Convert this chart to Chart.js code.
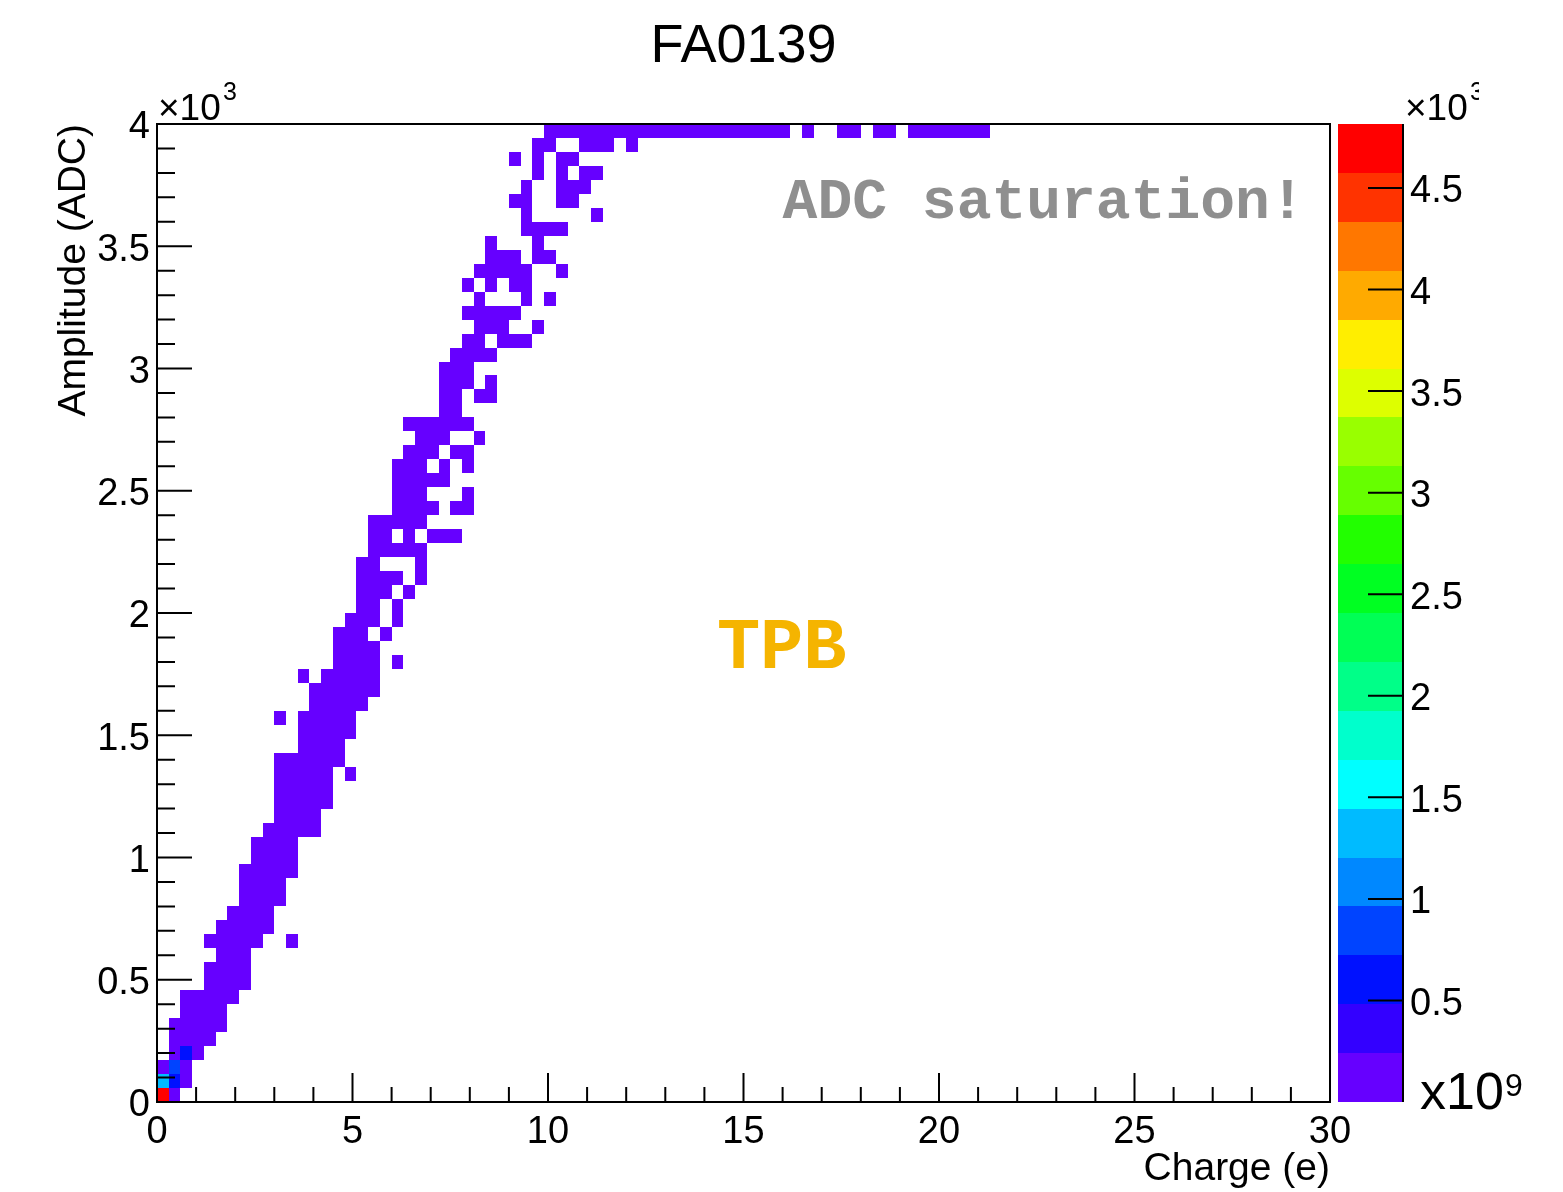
<!DOCTYPE html>
<html>
<head>
    <title>FA0139</title>
    <script src="https://cdn.jsdelivr.net/npm/chart.js"></script>
    <style>
        body { margin: 0; background: #ffffff; }
    </style>
</head>
<body>
    <canvas id="chart" width="1563" height="1192"></canvas>

    <script>
        // histogram binning
        var xMin = 0, xMax = 30, nBinsX = 100;
        var yMin = 0, yMax = 4000, nBinsY = 70;

        // filled bins, row by row: [row, first column, last column]
        var filledRuns = [
            [0, 0, 1], [1, 0, 2], [2, 0, 2], [3, 1, 3], [4, 1, 4], [5, 1, 5], [6, 2, 5], [7, 2, 6],
            [8, 4, 7], [9, 4, 7], [10, 5, 7], [11, 4, 8], [11, 11, 11], [12, 5, 9], [13, 6, 9],
            [14, 7, 10], [15, 7, 10], [16, 7, 11], [17, 8, 11], [18, 8, 11], [19, 9, 13], [20, 10, 13],
            [21, 10, 14], [22, 10, 14], [23, 10, 14], [23, 16, 16], [24, 10, 15], [25, 12, 15],
            [26, 12, 16], [27, 10, 10], [27, 12, 16], [28, 13, 17], [29, 13, 18], [30, 12, 12],
            [30, 14, 18], [31, 15, 18], [31, 20, 20], [32, 15, 18], [33, 15, 17], [33, 19, 19],
            [34, 16, 18], [34, 20, 20], [35, 17, 18], [35, 20, 20], [36, 17, 19], [36, 21, 21],
            [37, 17, 20], [37, 22, 22], [38, 17, 18], [38, 22, 22], [39, 18, 22], [40, 18, 19],
            [40, 21, 21], [40, 23, 25], [41, 18, 22], [42, 20, 23], [42, 25, 26], [43, 20, 22],
            [43, 26, 26], [44, 20, 24], [45, 20, 22], [45, 24, 24], [45, 26, 26], [46, 21, 23],
            [46, 25, 26], [47, 22, 24], [47, 27, 27], [48, 21, 26], [49, 24, 25], [50, 24, 25],
            [50, 27, 28], [51, 24, 26], [51, 28, 28], [52, 24, 26], [53, 25, 28], [54, 26, 27],
            [54, 29, 31], [55, 27, 29], [55, 32, 32], [56, 26, 30], [57, 27, 27], [57, 31, 31],
            [57, 33, 33], [58, 26, 26], [58, 28, 28], [58, 30, 31], [59, 27, 31], [59, 34, 34],
            [60, 28, 30], [60, 32, 33], [61, 28, 28], [61, 32, 32], [62, 31, 34], [63, 31, 31],
            [63, 37, 37], [64, 30, 31], [64, 34, 35], [65, 31, 31], [65, 34, 36], [66, 32, 32],
            [66, 34, 34], [66, 36, 37], [67, 30, 30], [67, 32, 32], [67, 34, 35], [68, 32, 33],
            [68, 36, 38], [68, 40, 40], [69, 33, 53], [69, 55, 55], [69, 58, 59], [69, 61, 62],
            [69, 64, 70]
        ];

        // bin contents in units of 10^12 (colour axis x10^3 x10^9)
        var lowContent = 0.1;
        var hotBins = [
            [0, 0, 4.79], [0, 1, 1.3], [1, 1, 0.6], [1, 2, 0.85], [2, 3, 0.62]
        ];

        // colour axis
        var zMax = 4.815;
        var zTicks = [0.5, 1, 1.5, 2, 2.5, 3, 3.5, 4, 4.5];
        var palette = [
            "#6600ff", "#3300ff", "#0011ff", "#0044ff", "#0088ff",
            "#00bbff", "#00ffff", "#00ffcc", "#00ff88", "#00ff55",
            "#00ff22", "#22ff00", "#66ff00", "#99ff00", "#ddff00",
            "#ffee00", "#ffaa00", "#ff7700", "#ff3300", "#ff0000"
        ];

        var font = "'Liberation Sans', Arial, Helvetica, sans-serif";
        var mono = "'Liberation Mono', 'Courier New', monospace";

        // build the bin list from the runs
        var dx = (xMax - xMin) / nBinsX;
        var dy = (yMax - yMin) / nBinsY;
        var bins = [];
        filledRuns.forEach(function (r) {
            for (var k = r[1]; k <= r[2]; k++) {
                var v = lowContent;
                hotBins.forEach(function (h) {
                    if (h[0] === k && h[1] === r[0]) v = h[2];
                });
                bins.push({ x: xMin + (k + 0.5) * dx, y: yMin + (r[0] + 0.5) * dy, v: v });
            }
        });

        function colourFor(v) {
            var i = Math.floor(v / zMax * palette.length);
            return palette[Math.max(0, Math.min(palette.length - 1, i))];
        }

        // draws the 2D bins as filled cells
        var colzPlugin = {
            id: "colz",
            beforeDatasetsDraw: function (chart) {
                var ctx = chart.ctx, xs = chart.scales.x, ys = chart.scales.y;
                ctx.save();
                chart.data.datasets[0].data.forEach(function (b) {
                    var x0 = Math.round(xs.getPixelForValue(b.x - dx / 2));
                    var x1 = Math.round(xs.getPixelForValue(b.x + dx / 2));
                    var y0 = Math.round(ys.getPixelForValue(b.y + dy / 2));
                    var y1 = Math.round(ys.getPixelForValue(b.y - dy / 2));
                    ctx.fillStyle = colourFor(b.v);
                    ctx.fillRect(x0, y0, x1 - x0, y1 - y0);
                });
                ctx.restore();
            }
        };

        // ROOT style frame, inward ticks, palette axis and labels
        var frameTicks = {
            id: "frameTicks",
            afterDraw: function (chart) {
                var ctx = chart.ctx, a = chart.chartArea;
                var xs = chart.scales.x, ys = chart.scales.y;
                ctx.save();
                ctx.strokeStyle = "#000";
                ctx.lineWidth = 2;
                ctx.strokeRect(a.left, a.top, a.right - a.left, a.bottom - a.top);

                ctx.beginPath();
                var i, p, len;
                for (i = 0; i <= 30; i++) {
                    p = xs.getPixelForValue(i);
                    len = (i % 5 === 0) ? 29 : 15;
                    ctx.moveTo(p, a.bottom);
                    ctx.lineTo(p, a.bottom - len);
                }
                for (i = 0; i <= 40; i++) {
                    p = ys.getPixelForValue(i * 100);
                    len = (i % 5 === 0) ? 35 : 18;
                    ctx.moveTo(a.left, p);
                    ctx.lineTo(a.left + len, p);
                }
                ctx.stroke();

                // exponent labels
                ctx.fillStyle = "#000";
                ctx.textBaseline = "alphabetic";
                ctx.textAlign = "left";
                ctx.font = "37px " + font;
                ctx.fillText("\u00d710", a.left + 1, a.top - 4);
                ctx.font = "25px " + font;
                ctx.fillText("3", a.left + 66, a.top - 24);

                // the palette exponent is cut at the pad edge
                ctx.save();
                ctx.beginPath();
                ctx.rect(0, 0, 1479, a.top);
                ctx.clip();
                ctx.font = "37px " + font;
                ctx.fillText("\u00d710", a.right + 75, a.top - 4);
                ctx.font = "25px " + font;
                ctx.fillText("3", a.right + 140, a.top - 24);
                ctx.restore();

                // palette
                var cx0 = a.right + 8, cx1 = a.right + 73;
                function zPix(v) { return a.bottom - v / zMax * (a.bottom - a.top); }
                for (i = 0; i < palette.length; i++) {
                    var t = Math.round(zPix((i + 1) * zMax / palette.length));
                    var b = Math.round(zPix(i * zMax / palette.length));
                    ctx.fillStyle = palette[i];
                    ctx.fillRect(cx0, t, cx1 - cx0, b - t);
                }
                ctx.beginPath();
                ctx.lineWidth = 2;
                ctx.moveTo(cx1, a.top);
                ctx.lineTo(cx1, a.bottom);
                zTicks.forEach(function (z) {
                    ctx.moveTo(cx1, zPix(z));
                    ctx.lineTo(cx1 - 35, zPix(z));
                });
                ctx.stroke();
                ctx.fillStyle = "#000";
                ctx.font = "38px " + font;
                ctx.textBaseline = "middle";
                zTicks.forEach(function (z) {
                    ctx.fillText(String(z), cx1 + 7, zPix(z) + 4);
                });
                ctx.textBaseline = "alphabetic";
                ctx.font = "52px " + font;
                ctx.fillText("x10", cx1 + 17, a.bottom + 7);
                ctx.font = "32px " + font;
                ctx.fillText("9", cx1 + 102, a.bottom - 6);

                // annotations
                ctx.font = "bold 58px " + mono;
                ctx.fillStyle = "#8f8f8f";
                ctx.fillText("ADC saturation!", xs.getPixelForValue(16.0), ys.getPixelForValue(3615));
                ctx.font = "bold 72px " + mono;
                ctx.fillStyle = "#f5b400";
                ctx.fillText("TPB", xs.getPixelForValue(14.32), ys.getPixelForValue(1775));
                ctx.restore();
            }
        };

        var ctx = document.getElementById("chart").getContext("2d");
        var chart = new Chart(ctx, {
            type: "scatter",
            data: {
                datasets: [{
                    label: "FA0139",
                    data: bins,
                    pointRadius: 0,
                    pointHoverRadius: 0
                }]
            },
            options: {
                responsive: false,
                animation: false,
                events: [],
                layout: { padding: { left: 0, top: 0, right: 233, bottom: 0 } },
                plugins: {
                    legend: { display: false },
                    tooltip: { enabled: false },
                    title: {
                        display: true,
                        text: "FA0139",
                        fullSize: false,
                        color: "#000",
                        font: { family: font, size: 54, weight: "normal" },
                        padding: { top: 15, bottom: 44.2 }
                    }
                },
                scales: {
                    x: {
                        type: "linear",
                        min: xMin,
                        max: xMax,
                        grid: { display: false, drawTicks: false },
                        border: { display: false },
                        ticks: {
                            stepSize: 5,
                            color: "#000",
                            padding: 8,
                            maxRotation: 0,
                            font: { family: font, size: 38 }
                        },
                        title: {
                            display: true,
                            text: "Charge (e)",
                            align: "end",
                            color: "#000",
                            font: { family: font, size: 39, lineHeight: 1.15 },
                            padding: { top: 0, bottom: 0 }
                        },
                        afterFit: function (s) { s.height = 90; }
                    },
                    y: {
                        type: "linear",
                        min: yMin,
                        max: yMax,
                        grid: { display: false, drawTicks: false },
                        border: { display: false },
                        ticks: {
                            stepSize: 500,
                            color: "#000",
                            padding: 7,
                            labelOffset: 4,
                            font: { family: font, size: 38 },
                            callback: function (v) { return String(v / 1000); }
                        },
                        title: {
                            display: true,
                            text: "Amplitude (ADC)",
                            align: "end",
                            color: "#000",
                            font: { family: font, size: 39 },
                            padding: { top: 51, bottom: 0 }
                        },
                        afterFit: function (s) { s.width = 157; }
                    }
                }
            },
            plugins: [colzPlugin, frameTicks]
        });
    </script>
</body>
</html>
